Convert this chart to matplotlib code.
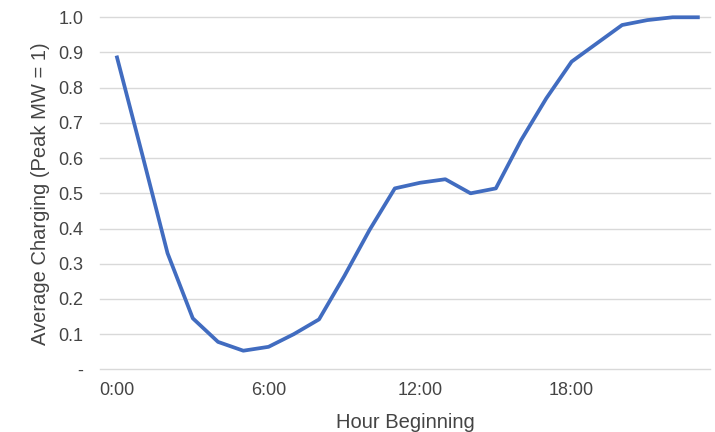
import matplotlib
matplotlib.use("Agg")
import matplotlib.pyplot as plt
from matplotlib.ticker import FixedLocator

plt.rcParams["font.family"] = ["Liberation Sans", "DejaVu Sans"]

# average charging profile by hour, normalised to peak MW
hours = list(range(24))
charging = [0.886, 0.61, 0.33, 0.145, 0.078, 0.053, 0.064, 0.10, 0.142, 0.265,
            0.396, 0.514, 0.53, 0.54, 0.50, 0.514, 0.651, 0.77, 0.874, 0.926,
            0.978, 0.992, 1.0, 1.0]
x_ticks = [0, 6, 12, 18]
x_tick_labels = ["0:00", "6:00", "12:00", "18:00"]
y_ticks = [0.0, 0.1, 0.2, 0.3, 0.4, 0.5, 0.6, 0.7, 0.8, 0.9, 1.0]
y_tick_labels = ["-", "0.1", "0.2", "0.3", "0.4", "0.5", "0.6", "0.7", "0.8", "0.9", "1.0"]

text_color = "#444444"

fig = plt.figure(figsize=(7.15, 4.32), dpi=100)
ax = fig.add_axes([0.14, 0.145, 0.853, 0.815])

ax.plot(hours, charging, color="#416cc0", linewidth=2.7, solid_joinstyle="round",
        clip_on=False, zorder=3)

ax.set_xlim(-0.67, 23.48)
ax.set_ylim(0, 1.0)
ax.xaxis.set_major_locator(FixedLocator(x_ticks))
ax.set_xticklabels(x_tick_labels)
ax.yaxis.set_major_locator(FixedLocator(y_ticks))
ax.set_yticklabels(y_tick_labels)
ax.tick_params(axis="y", length=0, pad=12, labelsize=13, labelcolor=text_color)
ax.tick_params(axis="x", length=0, pad=9, labelsize=13, labelcolor=text_color)

ax.grid(axis="y", color="#d9d9d9", linewidth=1)
ax.set_axisbelow(True)
# keep the gridlines at 0 and 1.0 from being clipped at the axes edge
for line in ax.yaxis.get_gridlines():
    line.set_clip_on(False)
for side in ax.spines.values():
    side.set_visible(False)

ax.set_xlabel("Hour Beginning", fontsize=14.5, color=text_color, labelpad=10)
ax.set_ylabel("Average Charging (Peak MW = 1)", fontsize=14.5, color=text_color, labelpad=6)

fig.savefig("out.png", dpi=100)
